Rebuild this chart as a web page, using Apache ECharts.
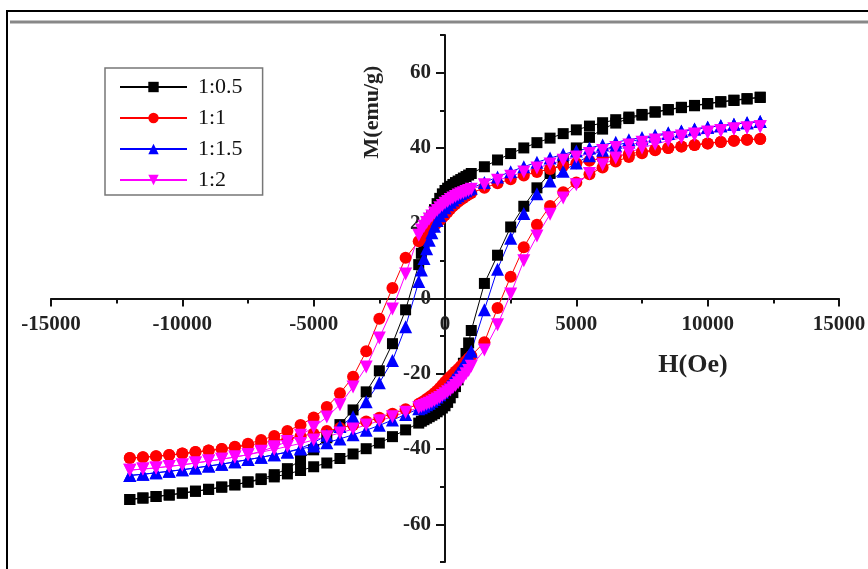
<!DOCTYPE html>
<html>
<head>
<meta charset="utf-8">
<script src="https://cdn.jsdelivr.net/npm/echarts@6/dist/echarts.min.js"></script>
<style>
html,body{margin:0;padding:0;background:#fff;}
#chart{width:868px;height:569px;}
</style>
</head>
<body>
<div id="chart"></div>
<script>
// Field values (Oe): descending sweep +12000 -> -12000, ascending sweep -12000 -> +12000
var fieldDown = [12000, 11500, 11000, 10500, 10000, 9500, 9000, 8500, 8000, 7500, 7000, 6500, 6000, 5500, 5000, 4500, 4000, 3500, 3000, 2500, 2000, 1500, 1000,
  900, 800, 700, 600, 500, 400, 300, 200, 100, 0, -100, -200, -300, -400, -500, -600, -700, -800, -900,
  -1000, -1500, -2000, -2500, -3000, -3500, -4000, -4500, -5000, -5500, -6000, -6500, -7000, -7500, -8000, -8500, -9000, -9500, -10000, -10500, -11000, -11500, -12000];
var fieldUp = [-12000, -11500, -11000, -10500, -10000, -9500, -9000, -8500, -8000, -7500, -7000, -6500, -6000, -5500, -5000, -4500, -4000, -3500, -3000, -2500, -2000, -1500, -1000,
  -900, -800, -700, -600, -500, -400, -300, -200, -100, 0, 100, 200, 300, 400, 500, 600, 700, 800, 900,
  1000, 1500, 2000, 2500, 3000, 3500, 4000, 4500, 5000, 5500, 6000, 6500, 7000, 7500, 8000, 8500, 9000, 9500, 10000, 10500, 11000, 11500, 12000];

// Magnetization (emu/g)
var m05Down = [53.5, 53.1, 52.7, 52.3, 51.8, 51.3, 50.8, 50.2, 49.6, 48.9, 48.2, 47.5, 46.7, 45.8, 44.8, 43.8, 42.6, 41.4, 40.0, 38.5, 36.8, 35.0, 33.2,
  32.8, 32.4, 32.0, 31.6, 31.2, 30.8, 30.3, 29.8, 29.3, 28.7, 27.8, 26.6, 25.2, 23.6, 21.8, 19.7, 17.4, 14.8, 12.0,
  9.0, -3.0, -12.0, -19.2, -24.8, -29.6, -33.5, -37.0, -40.2, -43.0, -45.2, -46.8, -47.9, -48.7, -49.5, -50.1, -50.7, -51.2, -51.7, -52.2, -52.6, -53.0, -53.4];
var m05Up = [-53.4, -53.0, -52.6, -52.2, -51.7, -51.2, -50.7, -50.1, -49.5, -48.8, -48.1, -47.4, -46.6, -45.7, -44.7, -43.7, -42.5, -41.3, -39.9, -38.4, -36.7, -34.9, -33.1,
  -32.6, -32.2, -31.8, -31.4, -31.0, -30.6, -30.1, -29.6, -29.1, -28.5, -27.6, -26.4, -25.0, -23.4, -21.6, -19.5, -17.2, -14.6, -11.8,
  -8.5, 4.0, 11.5, 19.0, 24.5, 29.4, 33.2, 36.8, 40.0, 42.8, 45.0, 46.6, 47.8, 48.7, 49.5, 50.1, 50.7, 51.2, 51.7, 52.2, 52.6, 53.0, 53.4];

var m1Down = [42.4, 42.2, 41.9, 41.6, 41.2, 40.8, 40.4, 40.0, 39.5, 39.0, 38.4, 37.8, 37.2, 36.6, 35.9, 35.2, 34.4, 33.6, 32.7, 31.7, 30.6, 29.4, 28.0,
  27.6, 27.2, 26.7, 26.2, 25.7, 25.1, 24.5, 23.8, 23.0, 22.2, 21.5, 20.8, 20.1, 19.4, 18.7, 18.0, 17.3, 16.6, 15.9,
  15.2, 10.8, 2.8, -5.4, -14.0, -20.8, -25.2, -28.8, -31.6, -33.6, -35.2, -36.5, -37.6, -38.6, -39.4, -40.0, -40.4, -40.8, -41.2, -41.6, -41.9, -42.2, -42.4];
var m1Up = [-42.4, -42.2, -41.9, -41.6, -41.2, -40.8, -40.4, -40.0, -39.5, -39.0, -38.4, -37.8, -37.2, -36.6, -35.9, -35.2, -34.4, -33.6, -32.7, -31.7, -30.6, -29.4, -28.0,
  -27.6, -27.2, -26.7, -26.2, -25.7, -25.1, -24.5, -23.8, -23.0, -22.2, -21.5, -20.8, -20.1, -19.4, -18.7, -18.0, -17.3, -16.6, -15.9,
  -15.2, -11.6, -2.5, 5.8, 13.6, 19.6, 24.6, 28.2, 30.8, 33.0, 34.8, 36.4, 37.6, 38.6, 39.4, 40.0, 40.4, 40.8, 41.2, 41.6, 41.9, 42.2, 42.4];

var m15Down = [47.0, 46.7, 46.3, 45.9, 45.5, 45.0, 44.5, 44.0, 43.4, 42.8, 42.2, 41.5, 40.8, 40.0, 39.2, 38.3, 37.3, 36.2, 35.0, 33.7, 32.3, 30.8, 29.3,
  29.0, 28.6, 28.2, 27.8, 27.3, 26.8, 26.2, 25.6, 24.9, 24.1, 23.1, 22.0, 20.7, 19.2, 17.5, 15.5, 13.2, 10.6, 7.6,
  4.5, -7.5, -16.5, -22.4, -27.4, -31.4, -34.0, -36.3, -38.3, -39.8, -40.8, -41.5, -42.2, -42.8, -43.4, -44.0, -44.5, -45.0, -45.5, -45.9, -46.3, -46.7, -47.0];
var m15Up = [-47.0, -46.7, -46.3, -45.9, -45.5, -45.0, -44.5, -44.0, -43.4, -42.8, -42.2, -41.5, -40.8, -40.0, -39.2, -38.3, -37.3, -36.2, -35.0, -33.7, -32.3, -30.8, -29.3,
  -29.0, -28.6, -28.2, -27.8, -27.3, -26.8, -26.2, -25.6, -24.9, -24.1, -23.3, -22.5, -21.6, -20.7, -19.7, -18.7, -17.6, -16.4, -15.2,
  -14.0, -3.0, 7.8, 16.0, 22.6, 27.8, 31.2, 33.8, 36.0, 37.9, 39.4, 40.6, 41.6, 42.4, 43.1, 43.8, 44.4, 45.0, 45.5, 45.9, 46.3, 46.7, 47.0];

var m2Down = [45.6, 45.3, 45.0, 44.6, 44.2, 43.7, 43.2, 42.7, 42.1, 41.5, 40.8, 40.1, 39.3, 38.5, 37.6, 36.7, 35.7, 34.7, 33.6, 32.5, 31.4, 30.2, 29.0,
  28.7, 28.4, 28.1, 27.8, 27.5, 27.1, 26.7, 26.3, 25.8, 25.3, 24.7, 24.1, 23.4, 22.7, 21.9, 21.1, 20.2, 19.2, 18.2,
  16.8, 6.5, -2.8, -10.5, -18.2, -23.5, -28.2, -31.5, -34.2, -36.3, -38.0, -39.4, -40.6, -41.5, -42.1, -42.7, -43.2, -43.7, -44.2, -44.6, -45.0, -45.3, -45.6];
var m2Up = [-45.6, -45.3, -45.0, -44.6, -44.2, -43.7, -43.2, -42.7, -42.1, -41.5, -40.8, -40.1, -39.3, -38.5, -37.6, -36.7, -35.7, -34.7, -33.6, -32.5, -31.4, -30.2, -29.0,
  -28.7, -28.4, -28.1, -27.8, -27.5, -27.1, -26.7, -26.3, -25.8, -25.3, -24.8, -24.3, -23.7, -23.1, -22.4, -21.7, -20.9, -20.0, -19.1,
  -18.0, -13.7, -7.0, 1.2, 10.0, 16.6, 22.4, 26.7, 30.2, 33.2, 35.5, 37.3, 38.8, 40.0, 41.0, 41.9, 42.7, 43.4, 44.0, 44.5, 45.0, 45.3, 45.6];

var seriesNames = ['1:0.5', '1:1', '1:1.5', '1:2'];
var yMajorTicks = [-60, -40, -20, 0, 20, 40, 60];
var xAxisTitle = 'H(Oe)';
var yAxisTitle = 'M(emu/g)';

function loop(down, up) {
  var pts = [];
  for (var i = 0; i < fieldDown.length; i++) pts.push([fieldDown[i], down[i]]);
  for (var j = 0; j < fieldUp.length; j++) pts.push([fieldUp[j], up[j]]);
  return pts;
}

var serif = 'Liberation Serif, Times New Roman, serif';
var GRID = {left: 51, right: 29, top: 35, bottom: 7};
var W = 868, H = 569;
var gridW = W - GRID.left - GRID.right, gridH = H - GRID.top - GRID.bottom;
// axes cross at the origin: shift each axis from the grid edge to the zero line
var yShift = -gridW * (0 - (-15000)) / 30000;
var xShift = -gridH * (0 - (-70)) / 140;

var chart = echarts.init(document.getElementById('chart'), null, {renderer: 'canvas'});

function mkSeries(name, down, up, color, symbol, size, rot) {
  return {
    name: name, type: 'line', data: loop(down, up),
    symbol: symbol, symbolSize: size, symbolRotate: rot || 0,
    showAllSymbol: true, clip: false,
    lineStyle: {color: color, width: 1},
    itemStyle: {color: color, borderWidth: 0},
    emphasis: {disabled: true}
  };
}

chart.setOption({
  animation: false,
  backgroundColor: '#ffffff',
  grid: {left: GRID.left, right: GRID.right, top: GRID.top, bottom: GRID.bottom, outerBoundsMode: 'none'},
  xAxis: {
    type: 'value', min: -15000, max: 15000, interval: 5000, position: 'bottom', offset: xShift,
    splitLine: {show: false},
    axisLine: {onZero: false, lineStyle: {color: '#111', width: 2}},
    axisTick: {show: true, inside: false, length: 8, lineStyle: {color: '#111', width: 2}},
    minorTick: {show: true, splitNumber: 2, length: 5, lineStyle: {color: '#111', width: 2}},
    axisLabel: {margin: 16, fontFamily: serif, fontWeight: 'bold', fontSize: 21, color: '#222',
      showMinLabel: true, showMaxLabel: true,
      formatter: function (v) { return String(v); }}
  },
  yAxis: [{
    type: 'value', min: -70, max: 70, interval: 10, position: 'left', offset: yShift,
    splitLine: {show: false},
    axisLine: {onZero: false, lineStyle: {color: '#111', width: 2}},
    axisTick: {show: true, inside: false, length: 5, lineStyle: {color: '#111', width: 2}},
    axisLabel: {margin: 14, fontFamily: serif, fontWeight: 'bold', fontSize: 21, color: '#222',
      formatter: function (v) { return (v % 20 === 0) ? String(v) : ''; }}
  }, {
    type: 'value', min: -70, max: 70, position: 'left', offset: yShift, interval: 10,
    splitLine: {show: false},
    axisLine: {show: false, onZero: false},
    axisTick: {show: true, inside: false, length: 9, customValues: yMajorTicks, lineStyle: {color: '#111', width: 2}},
    axisLabel: {show: false}
  }],
  legend: {
    left: 105, top: 68, orient: 'vertical',
    data: seriesNames,
    itemWidth: 67, itemHeight: 13, itemGap: 9,
    padding: [8, 20, 4, 14],
    borderColor: '#777', borderWidth: 1.5, backgroundColor: '#fff',
    textStyle: {fontFamily: serif, fontSize: 22, color: '#111', padding: [0, 0, 0, 6]},
    selectedMode: false
  },
  graphic: [
    {type: 'line', shape: {x1: 7, y1: 10, x2: 7, y2: 569}, style: {stroke: '#000', lineWidth: 2}, silent: true},
    {type: 'line', shape: {x1: 6, y1: 11, x2: 868, y2: 11}, style: {stroke: '#000', lineWidth: 2}, silent: true},
    {type: 'line', shape: {x1: 10, y1: 22, x2: 868, y2: 22}, style: {stroke: '#888', lineWidth: 3}, silent: true},
    {type: 'text', x: 372, y: 112, rotation: Math.PI / 2,
      style: {text: yAxisTitle, fontFamily: serif, fontWeight: 'bold', fontSize: 22, fill: '#222', align: 'center', verticalAlign: 'middle'}, silent: true},
    {type: 'text', x: 693, y: 365,
      style: {text: xAxisTitle, fontFamily: serif, fontWeight: 'bold', fontSize: 26, fill: '#222', align: 'center', verticalAlign: 'middle'}, silent: true}
  ],
  series: [
    mkSeries(seriesNames[0], m05Down, m05Up, '#000000', 'rect', 11),
    mkSeries(seriesNames[1], m1Down, m1Up, '#ff0000', 'circle', 12),
    mkSeries(seriesNames[2], m15Down, m15Up, '#0000ff', 'triangle', 13),
    mkSeries(seriesNames[3], m2Down, m2Up, '#ff00ff', 'triangle', 13, 180)
  ]
});
</script>
</body>
</html>
